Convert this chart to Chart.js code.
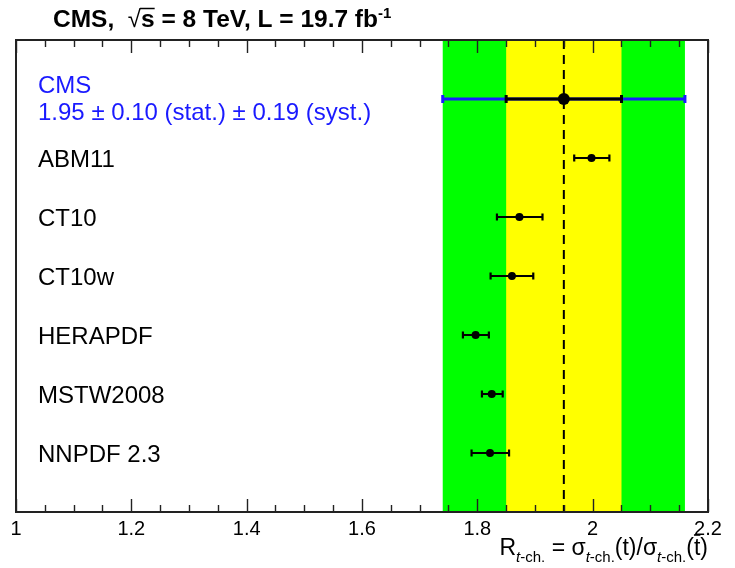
<!DOCTYPE html>
<html><head><meta charset="utf-8">
<script src="https://cdn.jsdelivr.net/npm/chart.js@4.4.1/dist/chart.umd.min.js"></script>
<style>html,body{margin:0;padding:0;background:#fff}canvas{display:block}</style>
</head><body>
<canvas id="c" width="735" height="568"></canvas>
<script>
// ---- data ----
const pdfLabels  = ['ABM11', 'CT10', 'CT10w', 'HERAPDF', 'MSTW2008', 'NNPDF 2.3'];
const pdfCentral = [1.998, 1.873, 1.860, 1.797, 1.825, 1.822];
const pdfLow     = [1.968, 1.834, 1.823, 1.775, 1.808, 1.790];
const pdfHigh    = [2.029, 1.913, 1.897, 1.820, 1.844, 1.855];
const pdfRows    = [2, 3, 4, 5, 6, 7];

const cmsLabel     = 'CMS';
const cmsText      = '1.95 \u00b1 0.10 (stat.) \u00b1 0.19 (syst.)';
const cmsValue     = 1.95;
const cmsRow       = 1;
const cmsStatLow   = 1.85;
const cmsStatHigh  = 2.05;
const cmsTotalLow  = 1.74;
const cmsTotalHigh = 2.16;

const xTickValues = [1, 1.2, 1.4, 1.6, 1.8, 2, 2.2];
const xTickLabels = ['1', '1.2', '1.4', '1.6', '1.8', '2', '2.2'];
const xMinorStep  = 0.05;

const FONT = "'Liberation Sans', Arial, Helvetica, sans-serif";

function hbar(ctx, xs, yPix, lo, hi, color, lw, cap) {
  const x1 = xs.getPixelForValue(lo), x2 = xs.getPixelForValue(hi);
  ctx.strokeStyle = color; ctx.lineWidth = lw; ctx.setLineDash([]);
  ctx.beginPath();
  ctx.moveTo(x1, yPix); ctx.lineTo(x2, yPix);
  ctx.moveTo(x1, yPix - cap); ctx.lineTo(x1, yPix + cap);
  ctx.moveTo(x2, yPix - cap); ctx.lineTo(x2, yPix + cap);
  ctx.stroke();
}

function segWidth(ctx, segs) {
  let w = 0;
  for (const s of segs) { ctx.font = s.font; w += ctx.measureText(s.t).width; }
  return w;
}
function drawSegs(ctx, segs, x, y) {
  for (const s of segs) {
    ctx.font = s.font;
    const w = ctx.measureText(s.t).width;
    ctx.fillText(s.t, x, y + (s.dy || 0));
    if (s.over) {
      ctx.save(); ctx.lineWidth = s.overW || 1.5; ctx.strokeStyle = '#000';
      ctx.beginPath();
      ctx.moveTo(x + (s.overX0 || 0), y + s.over); ctx.lineTo(x + w + (s.overX1 || 0), y + s.over);
      ctx.stroke(); ctx.restore();
    }
    x += w;
  }
  return x;
}

const bgPlugin = {
  id: 'bg',
  beforeDatasetsDraw(chart) {
    const { ctx, chartArea: a, scales: { x, y } } = chart;
    ctx.save();
    const gl = x.getPixelForValue(cmsTotalLow), gh = x.getPixelForValue(cmsTotalHigh);
    const yl = x.getPixelForValue(cmsStatLow), yh = x.getPixelForValue(cmsStatHigh);
    ctx.fillStyle = '#00ff00';
    ctx.fillRect(gl, a.top, gh - gl, a.bottom - a.top);
    ctx.fillStyle = '#ffff00';
    ctx.fillRect(yl, a.top, yh - yl, a.bottom - a.top);
    // dashed central line
    const cx = x.getPixelForValue(cmsValue);
    ctx.strokeStyle = '#000'; ctx.lineWidth = 2; ctx.setLineDash([9, 6]);
    ctx.beginPath(); ctx.moveTo(cx, a.top); ctx.lineTo(cx, a.bottom); ctx.stroke();
    ctx.setLineDash([]);
    // CMS error bars
    const cy = y.getPixelForValue(cmsRow);
    hbar(ctx, x, cy, cmsTotalLow, cmsTotalHigh, '#1a1aff', 3, 4);
    hbar(ctx, x, cy, cmsStatLow, cmsStatHigh, '#000', 3, 4);
    // PDF error bars
    for (let i = 0; i < pdfCentral.length; i++) {
      hbar(ctx, x, y.getPixelForValue(pdfRows[i]), pdfLow[i], pdfHigh[i], '#000', 2.2, 3.5);
    }
    ctx.restore();
  }
};

const fgPlugin = {
  id: 'fg',
  afterDraw(chart) {
    const { ctx, chartArea: a, scales: { x, y } } = chart;
    ctx.save();
    // ticks (inside, top and bottom)
    ctx.strokeStyle = '#222'; ctx.lineWidth = 1.4;
    ctx.beginPath();
    const n = Math.round((x.max - x.min) / xMinorStep);
    for (let k = 0; k <= n; k++) {
      const v = x.min + k * xMinorStep;
      const px = Math.round(x.getPixelForValue(v)) + 0.5;
      const major = xTickValues.some(t => Math.abs(t - v) < 1e-6);
      const len = major ? 13 : 7;
      ctx.moveTo(px, a.bottom); ctx.lineTo(px, a.bottom - len);
      ctx.moveTo(px, a.top); ctx.lineTo(px, a.top + len);
    }
    ctx.stroke();
    // frame
    ctx.strokeStyle = '#222'; ctx.lineWidth = 2;
    ctx.strokeRect(a.left, a.top, a.right - a.left, a.bottom - a.top);

    // row labels
    ctx.textAlign = 'left'; ctx.textBaseline = 'alphabetic';
    const lx = a.left + 22;
    ctx.fillStyle = '#1a1aff';
    ctx.font = '24px ' + FONT;
    const cy = y.getPixelForValue(cmsRow);
    ctx.fillText(cmsLabel, lx, cy - 6);
    ctx.fillText(cmsText, lx, cy + 21);
    ctx.fillStyle = '#000';
    for (let i = 0; i < pdfLabels.length; i++) {
      ctx.fillText(pdfLabels[i], lx, y.getPixelForValue(pdfRows[i]) + 9);
    }

    // title
    const B = 'bold 24.5px ' + FONT;
    const titleSegs = [
      { t: 'CMS,  ', font: B },
      { t: '\u221a', font: '24px ' + FONT },
      { t: 's', font: B, over: -18.5, overX0: -1, overW: 1.5 },
      { t: ' = 8 TeV, L = 19.7 fb', font: B },
      { t: '-1', font: 'bold 15px ' + FONT, dy: -9 }
    ];
    ctx.fillStyle = '#000';
    drawSegs(ctx, titleSegs, 53, 27);

    // axis title (right aligned to plot right edge)
    const N = '23px ' + FONT, S = '15px ' + FONT, SI = 'italic 15px ' + FONT;
    const axSegs = [
      { t: 'R', font: N },
      { t: 't', font: SI, dy: 7 }, { t: '-ch.', font: S, dy: 7 },
      { t: ' = \u03c3', font: N },
      { t: 't', font: SI, dy: 7 }, { t: '-ch.', font: S, dy: 7 },
      { t: '(t)/\u03c3', font: N },
      { t: 't', font: SI, dy: 7 }, { t: '-ch.', font: S, dy: 7 },
      { t: '(', font: N },
      { t: 't', font: N, over: -20, overW: 1.6 },
      { t: ')', font: N }
    ];
    ctx.fillStyle = '#000';
    const w = segWidth(ctx, axSegs);
    drawSegs(ctx, axSegs, a.right - w, 555);
    ctx.restore();
  }
};

new Chart(document.getElementById('c'), {
  type: 'scatter',
  data: {
    datasets: [
      { label: cmsLabel, data: [{ x: cmsValue, y: cmsRow }],
        pointRadius: 6, pointHoverRadius: 6, backgroundColor: '#000', borderColor: '#000', borderWidth: 0 },
      { label: 'PDF', data: pdfCentral.map((v, i) => ({ x: v, y: pdfRows[i] })),
        pointRadius: 4, pointHoverRadius: 4, backgroundColor: '#000', borderColor: '#000', borderWidth: 0 }
    ]
  },
  options: {
    responsive: false, animation: false, devicePixelRatio: 1, events: [],
    layout: { padding: { left: 16, right: 27, top: 40, bottom: 0 } },
    plugins: { legend: { display: false }, tooltip: { enabled: false }, title: { display: false } },
    scales: {
      x: {
        type: 'linear', min: 1, max: 2.2,
        grid: { display: false, drawTicks: false },
        border: { display: false },
        afterBuildTicks: s => { s.ticks = xTickValues.map(v => ({ value: v })); },
        afterFit: s => { s.height = 56; },
        ticks: {
          callback: (v, i) => xTickLabels[i],
          font: { family: FONT, size: 20 }, color: '#000', padding: 5,
          maxRotation: 0, autoSkip: false
        }
      },
      y: { type: 'linear', min: 0, max: 8, reverse: true, display: false }
    }
  },
  plugins: [bgPlugin, fgPlugin]
});
</script>
</body></html>
